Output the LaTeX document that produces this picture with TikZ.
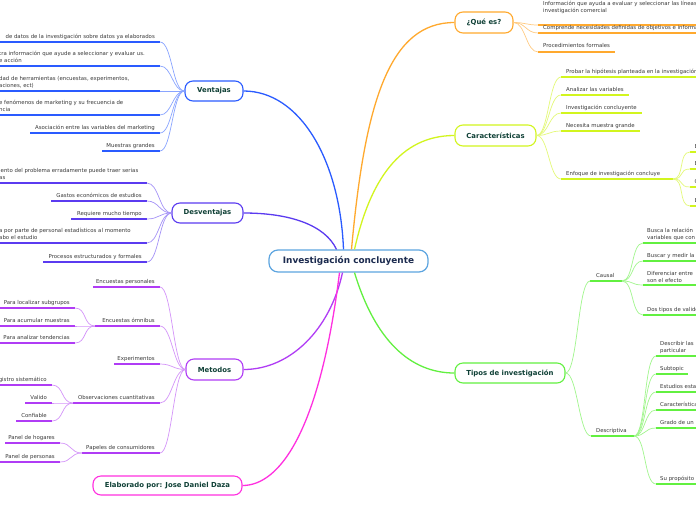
\documentclass[tikz,border=0pt]{standalone}
\usepackage{fontspec}
\setmainfont{DejaVu Sans}
\definecolor{colq}{HTML}{FFA92E}
\definecolor{colc}{HTML}{D2F51E}
\definecolor{colt}{HTML}{62F040}
\definecolor{colv}{HTML}{2A5BFF}
\definecolor{cold}{HTML}{5B3BF0}
\definecolor{colm}{HTML}{B03CF5}
\definecolor{cole}{HTML}{FF30E0}
\definecolor{colcen}{HTML}{5DA5E0}
\definecolor{mtext}{HTML}{0F4036}
\definecolor{centext}{HTML}{1B2A4E}
\definecolor{chtext}{HTML}{3A3A3A}
% name, colour, x1, x2, underline y, anchor, text x, text y, text
\newcommand{\mmChild}[9]{%
  \coordinate (#1s) at (#3,#5);
  \coordinate (#1e) at (#4,#5);
  \draw[ul,#2] (#1s) -- (#1e);
  \node[ctext,anchor=#6] (#1) at (#7,#8) {#9};}
\newcommand{\mmLink}[3]{\draw[conn,#1] (#2) .. controls +(12,0) and +(-12,0) .. (#3);}
\begin{document}
\begin{tikzpicture}[x=1pt,y=-1pt,
  mainbox/.style={draw, rounded corners=8pt, line width=1.1pt, fill=white,
    font=\bfseries\fontsize{6.9}{8}\selectfont, text=mtext, inner sep=0pt},
  ctext/.style={font=\fontsize{5.4}{7}\selectfont, text=chtext, inner sep=0pt, align=left},
  ul/.style={line width=1.9pt},
  conn/.style={line width=0.7pt},
  bconn/.style={line width=1.3pt}]
\useasboundingbox (0,0) rectangle (696,520);
\fill[white] (0,0) rectangle (696,520);
\clip (0,0) rectangle (696,520);

% main nodes
\node[mainbox, draw=colcen, line width=1.2pt, rounded corners=9pt, minimum width=159pt, minimum height=22pt,
  font=\bfseries\fontsize{8.9}{10}\selectfont, text=centext] (central) at (348.5,261) {Investigación concluyente};
\node[mainbox, draw=colq, minimum width=58pt, minimum height=21pt] (quees) at (484,22.5) {¿Qué es?};
\node[mainbox, draw=colc, minimum width=81pt, minimum height=21pt] (carac) at (495.5,135.5) {Características};
\node[mainbox, draw=colt, minimum width=110pt, minimum height=20pt] (tipos) at (510,373) {Tipos de investigación};
\node[mainbox, draw=colv, minimum width=58pt, minimum height=20pt] (ventajas) at (214,91) {Ventajas};
\node[mainbox, draw=cold, minimum width=71pt, minimum height=20pt] (desv) at (207.5,213) {Desventajas};
\node[mainbox, draw=colm, minimum width=57pt, minimum height=21pt] (metodos) at (214.5,369.5) {Metodos};
\node[mainbox, draw=cole, minimum width=149pt, minimum height=19pt] (elab) at (167.5,485.5) {Elaborado por: Jose Daniel Daza};

% main connectors
\draw[bconn,colv] ([xshift=-5pt]central.north) .. controls (340,160) and (300,91) .. (ventajas.east);
\draw[bconn,cold] ([xshift=-12pt]central.north) .. controls (325,225) and (290,213) .. (desv.east);
\draw[bconn,colq] ([xshift=3pt]central.north) .. controls (365,100) and (390,22.5) .. (quees.west);
\draw[bconn,colc] ([xshift=6pt]central.north) .. controls (370,180) and (400,135.5) .. (carac.west);
\draw[bconn,colm] ([xshift=-6pt]central.south) .. controls (330,330) and (290,369.5) .. (metodos.east);
\draw[bconn,cole] ([xshift=-9pt]central.south) .. controls (320,430) and (280,485.5) .. (elab.east);
\draw[bconn,colt] ([xshift=6pt]central.south) .. controls (375,340) and (410,373) .. (tipos.west);

% Ventajas
\mmChild{va}{colv}{-5}{160}{42}{base east}{155}{38}{de datos de la investigación sobre datos ya elaborados}
\mmChild{vb}{colv}{-5}{160}{66}{base west}{-1}{62}{tra información que ayude a seleccionar y evaluar us.\\e acción}
\mmChild{vc}{colv}{-5}{160}{91}{base west}{-1}{87}{dad de herramientas (encuestas, experimentos,\\aciones, ect)}
\mmChild{vd}{colv}{-5}{160}{115}{base west}{-1}{111}{e fenómenos de marketing y su frecuencia de\\ncia}
\mmChild{ve}{colv}{30}{160}{133}{base east}{155}{129}{Asociación entre las variables del marketing}
\mmChild{vf}{colv}{102}{160}{151}{base east}{155}{147}{Muestras grandes}
\foreach \c in {va,vb,vc,vd,ve,vf}{\mmLink{colv!55}{\c e}{ventajas.west}}

% Desventajas
\mmChild{da}{cold}{-5}{147}{183}{base west}{-1}{179}{iento del problema erradamente puede traer serias\\as}
\mmChild{db}{cold}{51}{147}{201}{base east}{142}{197}{Gastos económicos de estudios}
\mmChild{dc}{cold}{71}{147}{219}{base east}{142}{215}{Requiere mucho tiempo}
\mmChild{dd}{cold}{-5}{147}{243}{base west}{-1}{239}{a por parte de personal estadísticos al momento\\abo el estudio}
\mmChild{de}{cold}{43}{147}{262}{base east}{142}{258}{Procesos estructurados y formales}
\foreach \c in {da,db,dc,dd,de}{\mmLink{cold!55}{\c e}{desv.west}}

% Metodos
\mmChild{ma}{colm}{93}{160}{287}{base east}{155}{283}{Encuestas personales}
\mmChild{mb}{colm}{95}{160}{326}{base east}{155}{322}{Encuestas ómnibus}
\mmChild{mba}{colm}{-5}{75}{308}{base east}{70}{304}{Para localizar subgrupos}
\mmChild{mbb}{colm}{-5}{75}{326}{base east}{70}{322}{Para acumular muestras}
\mmChild{mbc}{colm}{-5}{75}{343}{base east}{70}{339}{Para analizar tendencias}
\mmChild{mc}{colm}{114}{160}{364}{base east}{155}{360}{Experimentos}
\mmChild{md}{colm}{73}{160}{403}{base east}{155}{399}{Observaciones cuantitativas}
\mmChild{mda}{colm}{-5}{52}{385}{base east}{47}{381}{gistro sistemático}
\mmChild{mdb}{colm}{25}{52}{403}{base east}{47}{399}{Valido}
\mmChild{mdc}{colm}{16}{52}{421}{base east}{47}{417}{Confiable}
\mmChild{me}{colm}{82}{160}{453}{base east}{155}{449}{Papeles de consumidores}
\mmChild{mea}{colm}{5}{60}{443}{base east}{55}{439}{Panel de hogares}
\mmChild{meb}{colm}{-5}{60}{462}{base east}{55}{458}{Panel de personas}
\foreach \c in {ma,mb,mc,md,me}{\mmLink{colm!55}{\c e}{metodos.west}}
\foreach \c in {mba,mbb,mbc}{\mmLink{colm!55}{\c e}{mbs}}
\foreach \c in {mda,mdb,mdc}{\mmLink{colm!55}{\c e}{mds}}
\foreach \c in {mea,meb}{\mmLink{colm!55}{\c e}{mes}}

% Que es
\mmChild{qa}{colq}{538}{705}{25}{base west}{543}{12}{Información que ayuda a evaluar y seleccionar las líneas\\investigación comercial}
\mmChild{qb}{colq}{538}{705}{33}{base west}{543}{29.5}{Comprende necesidades definidas de objetivos e información}
\mmChild{qc}{colq}{538}{615}{52}{base west}{543}{47.5}{Procedimientos formales}
\foreach \c in {qa,qb,qc}{\mmLink{colq!60}{quees.east}{\c s}}

% Caracteristicas
\mmChild{ca}{colc}{561}{705}{77}{base west}{566}{73}{Probar la hipótesis planteada en la investigación}
\mmChild{cb}{colc}{561}{629}{95}{base west}{566}{91}{Analizar las variables}
\mmChild{cx}{colc}{561}{642}{113}{base west}{566}{109.5}{Investigación concluyente}
\mmChild{cy}{colc}{561}{640}{131}{base west}{566}{127.5}{Necesita muestra grande}
\mmChild{cz}{colc}{561}{673}{179}{base west}{566}{175.5}{Enfoque de investigación concluye}
\mmChild{cza}{colc}{690}{705}{152}{base west}{694.5}{148.5}{E}
\mmChild{czb}{colc}{690}{705}{169}{base west}{694.5}{165.5}{E}
\mmChild{czc}{colc}{690}{705}{187}{base west}{694.5}{183.5}{C}
\mmChild{czd}{colc}{690}{705}{206}{base west}{694.5}{202.5}{E}
\foreach \c in {ca,cb,cx,cy,cz}{\mmLink{colc!60}{carac.east}{\c s}}
\foreach \c in {cza,czb,czc,czd}{\mmLink{colc!60}{cze}{\c s}}

% Tipos
\mmChild{ta}{colt}{590}{622}{281}{base west}{596}{277.5}{Causal}
\mmChild{taa}{colt}{643}{705}{243}{base west}{647}{239.5}{Busca la relación\\variables que con}
\mmChild{tab}{colt}{643}{705}{261}{base west}{647}{257.5}{Buscar y medir la}
\mmChild{tac}{colt}{643}{705}{285}{base west}{647}{282}{Diferenciar entre\\son el efecto}
\mmChild{tad}{colt}{643}{705}{315}{base west}{647}{311.5}{Dos tipos de validez}
\mmChild{tb}{colt}{591}{634}{436}{base west}{596}{432.5}{Descriptiva}
\mmChild{xa}{colt}{656}{705}{356}{base west}{660}{352.5}{Describir las\\particular}
\mmChild{xb}{colt}{656}{688}{374}{base west}{660}{370.5}{Subtopic}
\mmChild{xc}{colt}{656}{705}{392}{base west}{660}{388.5}{Estudios estadísticos}
\mmChild{xd}{colt}{656}{705}{410}{base west}{660}{406.5}{Características}
\mmChild{xe}{colt}{656}{705}{428}{base west}{660}{424.5}{Grado de un}
\mmChild{xf}{colt}{656}{705}{484}{base west}{660}{480.5}{Su propósito}
\foreach \c in {ta,tb}{\mmLink{colt!60}{tipos.east}{\c s}}
\foreach \c in {taa,tab,tac,tad}{\mmLink{colt!60}{tae}{\c s}}
\foreach \c in {xa,xb,xc,xd,xe,xf}{\mmLink{colt!60}{tbe}{\c s}}
\end{tikzpicture}
\end{document}
